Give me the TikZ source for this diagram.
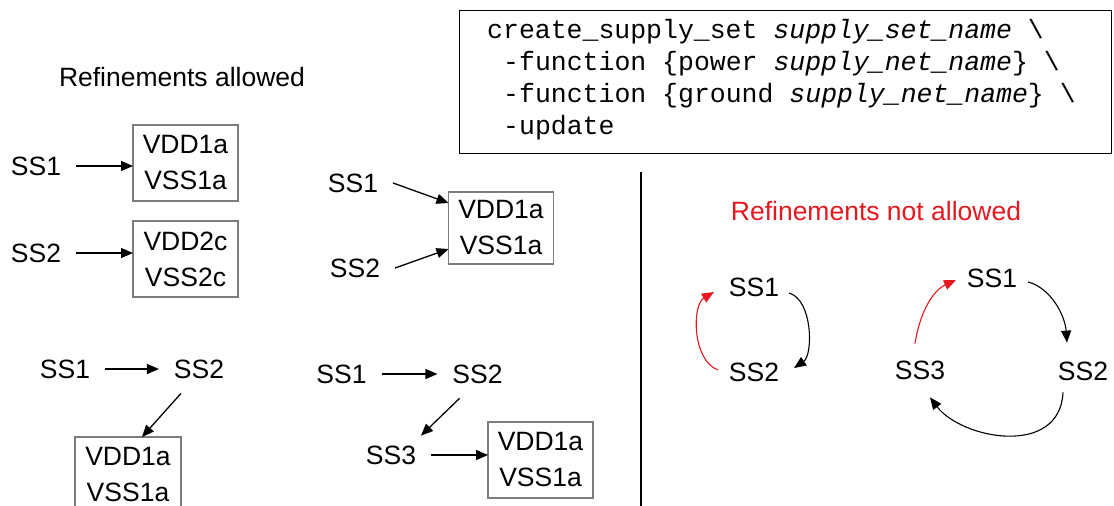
\documentclass[tikz,border=0pt]{standalone}
\usepackage{fontspec}
\setmainfont{Liberation Sans}
\newfontfamily\codefont{Liberation Mono}
\usetikzlibrary{arrows.meta}
\definecolor{refred}{RGB}{228,24,30}
\definecolor{boxgray}{RGB}{125,125,125}
\begin{document}
\begin{tikzpicture}[x=1pt,y=-1pt,
  lbl/.style={font=\fontsize{26.5}{36}\selectfont, inner sep=0pt, outer sep=15pt},
  ttl/.style={font=\fontsize{26.5}{36}\selectfont, inner sep=0pt},
  vbox/.style={draw=boxgray, line width=1.4pt, font=\fontsize{26.5}{36}\selectfont,
    align=center, minimum width=105pt, minimum height=76pt, inner sep=0pt, outer sep=0pt},
  arr/.style={-{Triangle[length=12pt,width=10pt]}, line width=1.3pt},
  carr/.style={-{Triangle[length=12pt,width=10pt]}, line width=1.1pt},
  rarr/.style={carr, draw=refred},
  code/.style={font=\codefont\fontsize{26.5}{32}\selectfont, inner sep=0pt, anchor=base west}
]
\useasboundingbox (0,0) rectangle (1114,506);

% titles
\node[ttl] (t1) at (182,77) {Refinements allowed};
\node[ttl, text=refred] (t2) at (876,211) {Refinements not allowed};

% code box
\node[draw, line width=1.3pt, minimum width=652pt, minimum height=143pt, anchor=north west, inner sep=0pt] (codebox) at (459,10) {};
\node[code] (c1) at (487,38) {create\_supply\_set \textit{supply\_set\_name} \textbackslash};
\node[code] (c2) at (503,70) {-function \{power \textit{supply\_net\_name}\} \textbackslash};
\node[code] (c3) at (503,102) {-function \{ground \textit{supply\_net\_name}\} \textbackslash};
\node[code] (c4) at (503,134) {-update};

% divider
\draw[line width=1.3pt] (641,172) -- (641,506);

% group A
\node[lbl] (a1) at (36,166) {SS1};
\node[vbox] (ab1) at (185.5,163) {VDD1a\\VSS1a};
\node[lbl] (a2) at (36,253) {SS2};
\node[vbox] (ab2) at (185.5,259) {VDD2c\\VSS2c};
\draw[arr] (a1.east) -- (a1.east -| ab1.west);
\draw[arr] (a2.east) -- (a2.east -| ab2.west);

% group B
\node[lbl] (b1) at (353,183) {SS1};
\node[lbl] (b2) at (355,268) {SS2};
\node[vbox, minimum height=72pt] (bb) at (501,228) {VDD1a\\VSS1a};
\draw[arr] (b1.east) -- ([yshift=25pt]bb.west);
\draw[arr] (b2.east) -- ([yshift=-21pt]bb.west);

% group C
\node[lbl] (c1s) at (65,369) {SS1};
\node[lbl] (c2s) at (199,369) {SS2};
\node[vbox, minimum width=106pt] (cb) at (128,475) {VDD1a\\VSS1a};
\draw[arr] (c1s.east) -- (c2s.west);
\draw[arr] ([xshift=-18pt]c2s.south) -- ([xshift=14pt]cb.north);

% group D
\node[lbl] (d1) at (341.5,374) {SS1};
\node[lbl] (d2) at (477.5,374) {SS2};
\node[lbl] (d3) at (391,455) {SS3};
\node[vbox] (db) at (540.5,460) {VDD1a\\VSS1a};
\draw[arr] (d1.east) -- (d2.west);
\draw[arr] ([xshift=-18pt]d2.south) -- ([shift={(30pt,-5pt)}]d3.north);
\draw[arr] (d3.east) -- (d3.east -| db.west);

% not allowed: two-cycle
\node[lbl] (e1) at (754,287) {SS1};
\node[lbl] (e2) at (754,372) {SS2};
\draw[carr] ([shift={(-5pt,-6pt)}]e1.east) .. controls +(24,7) and +(19,-13) .. ([yshift=4pt]e2.east);
\draw[rarr] ([shift={(4pt,2pt)}]e2.west) .. controls +(-26,-10) and +(-22,13) .. ([yshift=-5pt]e1.west);

% not allowed: three-cycle
\node[lbl] (f1) at (992,278) {SS1};
\node[lbl] (f2) at (1083,371) {SS2};
\node[lbl] (f3) at (920,370) {SS3};
\draw[carr] ([shift={(-4pt,-4pt)}]f1.east) .. controls +(23,6) and +(-2,-27) .. ([shift={(-16pt,4pt)}]f2.north);
\draw[carr] ([shift={(-20pt,3pt)}]f2.south) .. controls +(-3,65) and +(32,42) .. ([shift={(10pt,-3pt)}]f3.south);
\draw[rarr] ([shift={(-5pt,2pt)}]f3.north) .. controls +(5,-33) and +(-22,10) .. ([shift={(4pt,-2pt)}]f1.west);
\end{tikzpicture}
\end{document}
